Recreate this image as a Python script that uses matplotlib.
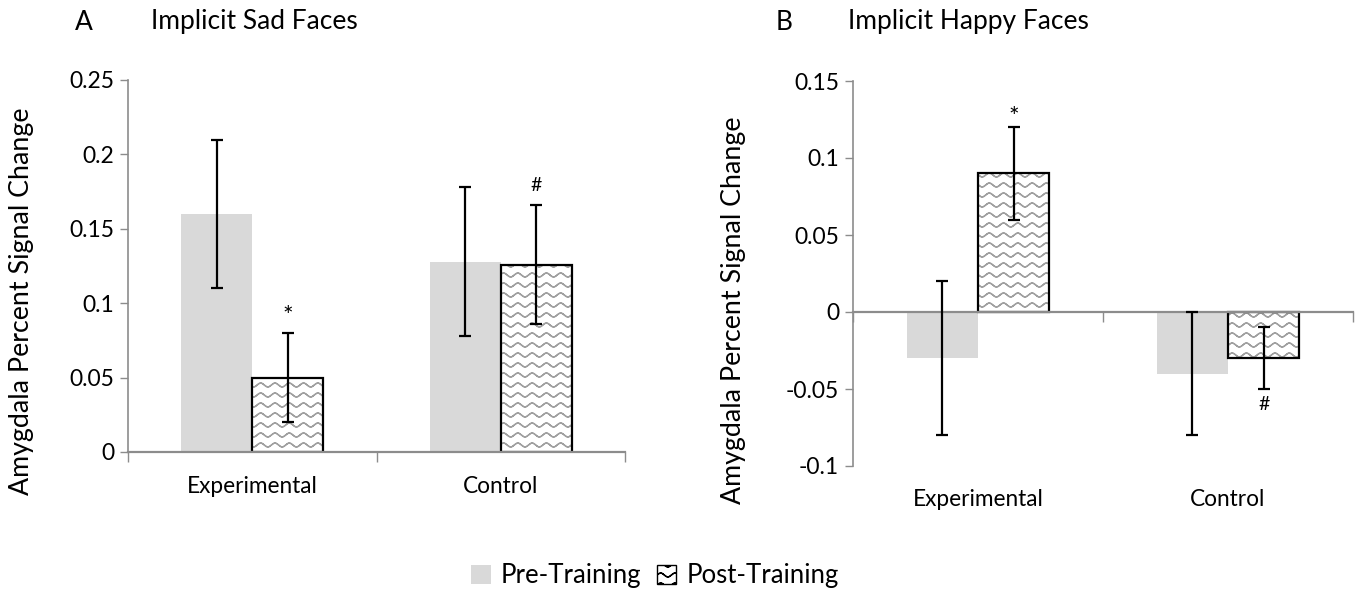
import numpy as np
import matplotlib
matplotlib.use('Agg')
import matplotlib.pyplot as plt
import matplotlib.hatch as mhatch
import matplotlib.transforms as mtransforms
from matplotlib.path import Path
from matplotlib.patches import Patch

plt.rcParams['font.family'] = ['Lato', 'DejaVu Sans']
plt.rcParams['hatch.linewidth'] = 1.0

# data
groups = ['Experimental', 'Control']
series = ['Pre-Training', 'Post-Training']

sad_pre = [0.16, 0.128]
sad_pre_err = [0.05, 0.05]
sad_post = [0.05, 0.126]
sad_post_err = [0.03, 0.04]
sad_marks = ['*', '#']          # marks over the post bars
sad_mark_y = [0.091, 0.179]
sad_ticks = [0, 0.05, 0.1, 0.15, 0.2, 0.25]
sad_ticklabels = ['0', '0.05', '0.1', '0.15', '0.2', '0.25']

happy_pre = [-0.03, -0.04]
happy_pre_err = [0.05, 0.04]
happy_post = [0.09, -0.03]
happy_post_err = [0.03, 0.02]
happy_marks = ['*', '#']
happy_mark_y = [0.126, -0.060]
happy_ticks = [-0.1, -0.05, 0, 0.05, 0.1, 0.15]
happy_ticklabels = ['-0.1', '-0.05', '0', '0.05', '0.1', '0.15']

pre_color = '#d9d9d9'
axis_gray = '#8c8c8c'
hatch_gray = '#a0a0a0'


# wavy hatch: replaces the plain '-' hatch of matplotlib
# each row goes forward and back on itself so agg's fill adds nothing
class WaveHatch(mhatch.HatchPatternBase):
    def __init__(self, hatch, density):
        n = hatch.count('-')
        self.num_rows = int(n * density * 5 / 3)
        self.num_waves = 7
        self.pts = self.num_waves * 8 + 1
        self.per_row = 2 * self.pts
        self.num_vertices = self.num_rows * self.per_row

    def set_vertices_and_codes(self, vertices, codes):
        xs = np.linspace(0.0, 1.0, self.pts)
        ys = 0.02 * np.sin(2 * np.pi * self.num_waves * xs)
        xs = np.concatenate([xs, xs[::-1]])
        ys = np.concatenate([ys, ys[::-1]])
        for i in range(self.num_rows):
            y0 = (i + 0.5) / self.num_rows
            sl = slice(i * self.per_row, (i + 1) * self.per_row)
            vertices[sl, 0] = xs
            vertices[sl, 1] = y0 + ys
            codes[sl] = Path.LINETO
            codes[i * self.per_row] = Path.MOVETO


mhatch._hatch_types = [WaveHatch if t is mhatch.HorizontalHatch else t
                       for t in mhatch._hatch_types]

W, H = 1360, 595
fig = plt.figure(figsize=(W / 100, H / 100), dpi=100)
ax1 = fig.add_axes([128 / W, 1 - 452 / H, 497 / W, 372 / H])
ax2 = fig.add_axes([853 / W, 1 - 466 / H, 500 / W, 385 / H])

bw = 1 / 3.5  # Excel gap width 150%


def draw_panel(ax, pre, pre_err, post, post_err, marks, mark_y, ticks, ticklabels, label_y):
    x = np.arange(len(groups))
    ax.bar(x - bw / 2, pre, bw, color=pre_color, linewidth=0, zorder=1)
    # hatch layer (gray), then black outline on top
    ax.bar(x + bw / 2, post, bw, color='white', edgecolor=hatch_gray,
           linewidth=0, hatch='-', zorder=1)
    ax.bar(x + bw / 2, post, bw, fill=False, edgecolor='black',
           linewidth=1.6, zorder=1.1)
    ax.errorbar(x - bw / 2, pre, yerr=pre_err, fmt='none', ecolor='black',
                elinewidth=1.6, capsize=4.5, capthick=1.6, zorder=3)
    ax.errorbar(x + bw / 2, post, yerr=post_err, fmt='none', ecolor='black',
                elinewidth=1.6, capsize=4.5, capthick=1.6, zorder=3)
    for xi, m, my in zip(x, marks, mark_y):
        ax.text(xi + bw / 2, my, m, ha='center', va='center',
                fontsize=18 if m == '*' else 14)

    ax.set_xlim(-0.5, len(groups) - 0.5)
    ax.set_ylim(ticks[0], ticks[-1])
    ax.set_yticks(ticks, ticklabels)
    ax.tick_params(axis='y', direction='out', length=6, width=1,
                   color=axis_gray, labelsize=16.5, pad=4)
    ax.set_xticks([])
    ax.set_xticks(np.arange(len(groups) + 1) - 0.5, minor=True)
    ax.tick_params(axis='x', which='minor', direction='out', length=7,
                   width=1, color=axis_gray)
    for s in ['top', 'right']:
        ax.spines[s].set_visible(False)
    ax.spines['left'].set_color(axis_gray)
    ax.spines['bottom'].set_color(axis_gray)
    ax.spines['left'].set_linewidth(1.2)
    ax.spines['bottom'].set_linewidth(1.6)
    ax.spines['bottom'].set_position(('data', 0))
    trans = mtransforms.blended_transform_factory(ax.transData, ax.transAxes)
    for xi, g in zip(x, groups):
        ax.text(xi, label_y, g, transform=trans, ha='center', va='center',
                fontsize=16.3)


draw_panel(ax1, sad_pre, sad_pre_err, sad_post, sad_post_err, sad_marks,
           sad_mark_y, sad_ticks, sad_ticklabels, -0.094)
draw_panel(ax2, happy_pre, happy_pre_err, happy_post, happy_post_err,
           happy_marks, happy_mark_y, happy_ticks, happy_ticklabels, -0.088)

fig.text(75 / W, 1 - 22 / H, 'A', ha='left', va='center', fontsize=19)
fig.text(151 / W, 1 - 22 / H, 'Implicit Sad Faces', ha='left', va='center', fontsize=19)
fig.text(776 / W, 1 - 22 / H, 'B', ha='left', va='center', fontsize=19)
fig.text(848 / W, 1 - 22 / H, 'Implicit Happy Faces', ha='left', va='center', fontsize=19)

ylab = 'Amygdala Percent Signal Change'
fig.text(22 / W, 1 - 301 / H, ylab, rotation=90, ha='center', va='center', fontsize=19.3)
fig.text(733 / W, 1 - 310 / H, ylab, rotation=90, ha='center', va='center', fontsize=19.3)

handles = [Patch(facecolor=pre_color, edgecolor='none'),
           Patch(facecolor='white', edgecolor='black', hatch='-', linewidth=1)]
fig.legend(handles, series, loc='center', bbox_to_anchor=(655 / W, 1 - 576 / H),
           ncol=2, frameon=False, fontsize=18.5, handlelength=0.75, handleheight=0.75,
           handletextpad=0.4, columnspacing=0.6)

fig.savefig('out.png', dpi=100)
